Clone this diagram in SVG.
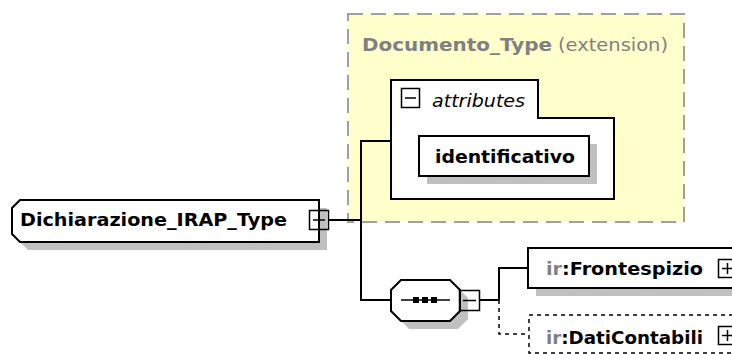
<svg xmlns="http://www.w3.org/2000/svg" width="732" height="354" viewBox="0 0 732 354">
<style>
.t{font-family:"DejaVu Sans","Liberation Sans",sans-serif;font-weight:bold;font-size:18px;fill:#000}
.g{fill:#808080}
.sh{fill:#c0c0c0}
.bx{fill:#fff;stroke:#000;stroke-width:2}
.ln{fill:none;stroke:#000;stroke-width:2}
.pm{fill:none;stroke:#000;stroke-width:1.5}
</style>
<rect width="732" height="354" fill="#fff"/>
<g id="Documento_Type">
<rect x="348" y="14" width="336" height="208" fill="#ffffcc" stroke="#a0a0a0" stroke-width="2" stroke-dasharray="15 8"/>
<text class="t g" x="362" y="51" textLength="190" lengthAdjust="spacingAndGlyphs">Documento_Type</text>
<text class="t g" x="558" y="51" style="font-weight:normal" textLength="110" lengthAdjust="spacingAndGlyphs">(extension)</text>
</g>
<g id="attributes">
<path class="bx" d="M391,80 H538 V118 H614 V199 H391 Z"/>
<rect class="pm" x="401.5" y="88.5" width="18" height="19" fill="#fff"/>
<line class="pm" x1="405" y1="98" x2="416" y2="98"/>
<text class="t" x="432" y="107" style="font-weight:normal;font-style:italic" textLength="93" lengthAdjust="spacingAndGlyphs">attributes</text>
</g>
<g id="identificativo">
<rect class="sh" x="427" y="144" width="170" height="40"/>
<rect class="bx" x="419" y="136" width="170" height="40"/>
<text class="t" x="435" y="163" textLength="140" lengthAdjust="spacingAndGlyphs">identificativo</text>
</g>
<g id="connectors">
<polyline class="ln" points="329,220 361,220"/>
<polyline class="ln" points="391,141 361,141 361,300 391,300"/>
<polyline class="ln" points="480,300 499,300"/>
<polyline class="ln" points="528,268 499,268 499,300"/>
<polyline points="499,300 499,334 529,334" fill="none" stroke="#000" stroke-width="1.5" stroke-dasharray="4 4"/>
</g>
<g id="Dichiarazione_IRAP_Type">
<path class="sh" d="M28,208 H327 V250 H28 L20,242 V216 Z"/>
<path class="bx" d="M20,200 H319 V242 H20 L12,234 V208 Z"/>
<text class="t" x="20" y="226" textLength="267" lengthAdjust="spacingAndGlyphs">Dichiarazione_IRAP_Type</text>
<rect class="pm" x="309.5" y="210.5" width="19" height="19" fill="#fff"/>
<line class="pm" x1="313" y1="220" x2="325" y2="220"/>
</g>
<g id="sequence">
<path class="sh" d="M409,288 H458 L468,298 V319 L458,329 H409 L399,319 V298 Z"/>
<path class="bx" d="M401,280 H450 L460,290 V311 L450,321 H401 L391,311 V290 Z"/>
<line x1="401" y1="300" x2="450" y2="300" stroke="#000" stroke-width="1.5"/>
<rect x="413" y="297" width="6" height="6" fill="#000"/>
<rect x="422" y="297" width="6" height="6" fill="#000"/>
<rect x="431" y="297" width="6" height="6" fill="#000"/>
<rect class="pm" x="459.5" y="290.5" width="20" height="20" fill="#fff"/>
<line class="pm" x1="463" y1="300.5" x2="476" y2="300.5"/>
</g>
<g id="Frontespizio">
<rect class="sh" x="536" y="256" width="210" height="40"/>
<rect class="bx" x="528" y="248" width="210" height="40"/>
<text class="t" x="546" y="275" textLength="157" lengthAdjust="spacingAndGlyphs"><tspan class="g">ir</tspan>:Frontespizio</text>
<rect class="pm" x="718.5" y="259.5" width="18" height="18" fill="#fff"/>
<line class="pm" x1="722" y1="268.5" x2="736" y2="268.5"/>
<line class="pm" x1="727.5" y1="263" x2="727.5" y2="274"/>
</g>
<g id="DatiContabili">
<rect x="529" y="315" width="210" height="38" fill="#fff" stroke="#000" stroke-width="1.5" stroke-dasharray="4 4"/>
<text class="t" x="546" y="344" textLength="157" lengthAdjust="spacingAndGlyphs"><tspan class="g">ir</tspan>:DatiContabili</text>
<rect class="pm" x="718.5" y="326.5" width="18" height="18" fill="#fff"/>
<line class="pm" x1="722" y1="335.5" x2="736" y2="335.5"/>
<line class="pm" x1="727.5" y1="330" x2="727.5" y2="341"/>
</g>
</svg>
